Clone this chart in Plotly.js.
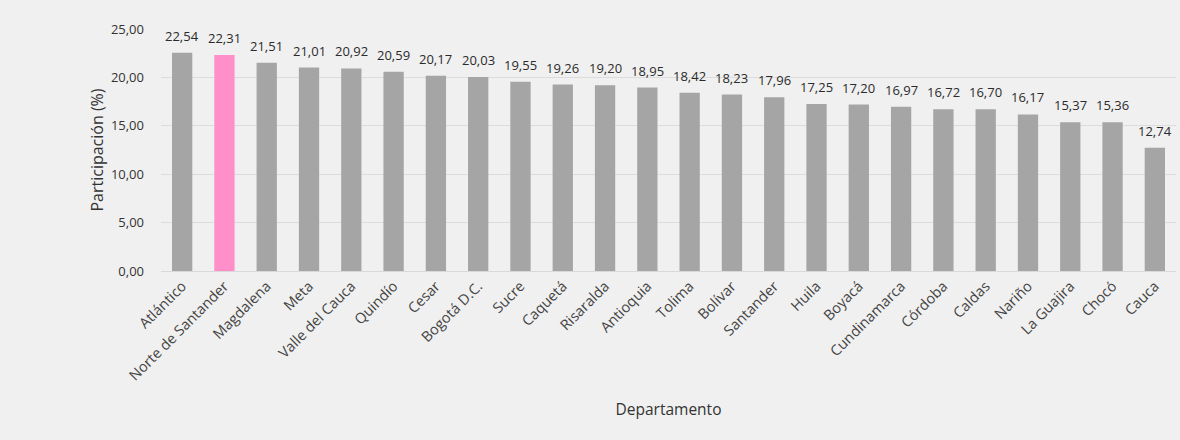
<!DOCTYPE html>
<html><head><meta charset="utf-8">
<script src="https://cdn.plot.ly/plotly-3.0.1.min.js"></script>
<style>body{margin:0;background:#f0f0f0}#c{width:1180px;height:440px}</style>
</head><body><div id="c"></div>
<script>
const categories = ["Atlántico","Norte de Santander","Magdalena","Meta","Valle del Cauca","Quindío","Cesar","Bogotá D.C.","Sucre","Caquetá","Risaralda","Antioquia","Tolima","Bolívar","Santander","Huila","Boyacá","Cundinamarca","Córdoba","Caldas","Nariño","La Guajira","Chocó","Cauca"];
const values = [22.54,22.31,21.51,21.01,20.92,20.59,20.17,20.03,19.55,19.26,19.20,18.95,18.42,18.23,17.96,17.25,17.20,16.97,16.72,16.70,16.17,15.37,15.36,12.74];
const highlight = "Norte de Santander";
const fmt = v => v.toFixed(2).replace('.', ',');
const colors = categories.map(c => c === highlight ? '#ff8fc8' : '#a5a5a5');
const font = "Open Sans, Noto Sans, sans-serif";
const labels = categories.map((c, i) => ({
  x: c, y: values[i], xref:'x', yref:'y', text: fmt(values[i]), showarrow:false,
  yanchor:'middle', yshift:17, font:{family:font, size:13, color:'#2b2b2b'}
}));
Plotly.newPlot('c', [{
  type:'bar', x:categories, y:values, marker:{color:colors}, hoverinfo:'none'
}], {
  width:1180, height:440,
  paper_bgcolor:'#f0f0f0', plot_bgcolor:'#f0f0f0',
  margin:{l:161, r:4, t:29, b:169},
  bargap:0.52,
  font:{family:font, size:12, color:'#333'},
  xaxis:{tickangle:-45, showgrid:false, showline:true, linecolor:'#d9d9d9', linewidth:1, ticks:'', tickfont:{size:14.5, color:'#444'},
    title:{text:'Departamento', font:{size:15.5, color:'#333'}, standoff:20}},
  yaxis:{range:[0,25], dtick:5, tickformat:'.2f', gridcolor:'#dcdcdc', zeroline:false, ticks:'', tickfont:{size:13, color:'#333'}, ticklabelstandoff:16,
    title:{text:'Participación (%)', font:{size:16, color:'#333'}, standoff:3}},
  separators:',.',
  annotations: labels,
  showlegend:false
}, {staticPlot:true});
</script></body></html>
